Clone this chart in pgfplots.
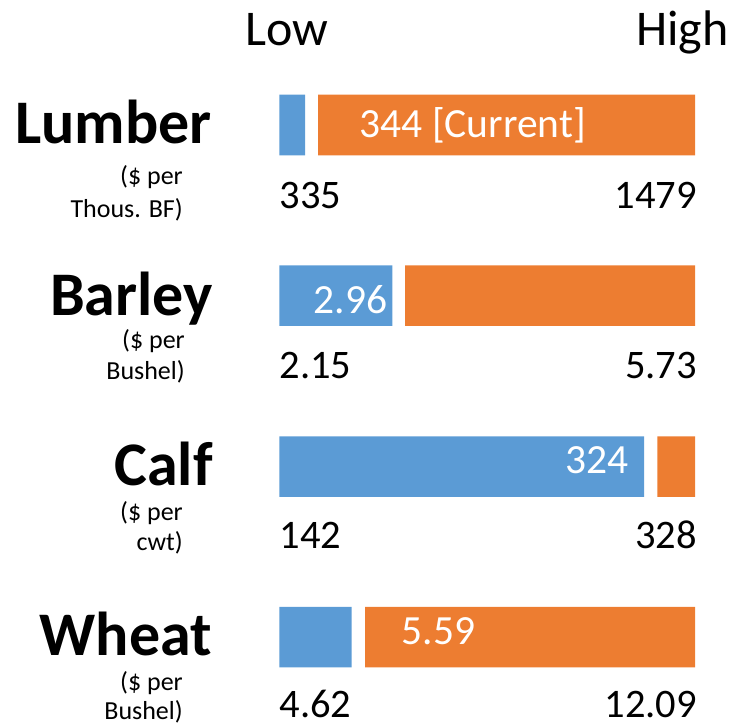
\documentclass[border=0pt]{standalone}
\usepackage{fontspec}
\setmainfont{Carlito}
\usepackage{pgfplots}
\pgfplotsset{compat=1.18}
\definecolor{cblue}{HTML}{5B9BD5}
\definecolor{corange}{HTML}{ED7D31}
\begin{document}
\begin{tikzpicture}
\tikzset{cat/.style={anchor=base east, inner sep=0pt, font=\fontsize{62}{70}\selectfont\bfseries},
  sub/.style={anchor=base east, inner sep=0pt, font=\fontsize{26}{30}\selectfont},
  num/.style={inner sep=0pt, font=\fontsize{40.5}{46}\selectfont},
  inb/.style={inner sep=0pt, text=white, font=\fontsize{41.5}{46}\selectfont}}
\begin{axis}[
  x=1pt, y=1pt,
  xmin=-279.3, xmax=457.7,
  ymin=0, ymax=725,
  y dir=reverse,
  hide axis, clip=false,
  xbar stacked,
  bar width=60.5pt,
]
% blue: current - low ; gap ; orange: high - current (pixel units of the 415.7 px range)
\addplot[fill=cblue, draw=none] coordinates {(25.7,125) (113,295.5) (364.7,466.5) (72.4,637)};
\addplot[fill=none, draw=none] coordinates {(13.0,125) (12.7,295.5) (13.3,466.5) (13.3,637)};
\addplot[fill=corange, draw=none] coordinates {(377.0,125) (290.0,295.5) (37.7,466.5) (330.0,637)};

\path (axis cs:-279.3,0) rectangle (axis cs:457.7,725);

% header
\node[anchor=base west, inner sep=0pt, font=\fontsize{50}{59}\selectfont] at (axis cs:-34.3,46) {Low};
\node[anchor=base east, inner sep=0pt, font=\fontsize{50}{59}\selectfont] at (axis cs:449.7,46) {High};

\node[cat] at (axis cs:-67.3,143) {Lumber};
\node[cat] at (axis cs:-66.3,315) {Barley};
\node[cat] at (axis cs:-66.3,485) {Calf};
\node[cat] at (axis cs:-67.3,655) {Wheat};

\node[sub] at (axis cs:-96.3,184) {(\$ per};
\node[sub] at (axis cs:-96.3,217) {Thous. BF)};
\node[sub] at (axis cs:-94.3,348) {(\$ per};
\node[sub] at (axis cs:-94.3,379) {Bushel)};
\node[sub] at (axis cs:-96.3,520) {(\$ per};
\node[sub] at (axis cs:-96.3,550) {cwt)};
\node[sub] at (axis cs:-96.3,690) {(\$ per};
\node[sub] at (axis cs:-96.3,719) {Bushel)};

\node[num, anchor=base west] at (axis cs:0,208) {335};
\node[num, anchor=base east] at (axis cs:417.7,208) {1479};
\node[num, anchor=base west] at (axis cs:0,378) {2.15};
\node[num, anchor=base east] at (axis cs:417.7,378) {5.73};
\node[num, anchor=base west] at (axis cs:0,548) {142};
\node[num, anchor=base east] at (axis cs:417.7,548) {328};
\node[num, anchor=base west] at (axis cs:0,717) {4.62};
\node[num, anchor=base east] at (axis cs:417.7,717) {12.09};

\coordinate (lumL) at (axis cs:80,137.3);
\coordinate (barL) at (axis cs:108,314);
\coordinate (calL) at (axis cs:349,474);
\coordinate (wheL) at (axis cs:122.4,645);
\end{axis}
% in-bar current labels, drawn above the bars
\node[inb, anchor=base west] at (lumL) {344 [Current]};
\node[inb, anchor=base east] at (barL) {2.96};
\node[inb, anchor=base east] at (calL) {324};
\node[inb, anchor=base west] at (wheL) {5.59};
\end{tikzpicture}
\end{document}
